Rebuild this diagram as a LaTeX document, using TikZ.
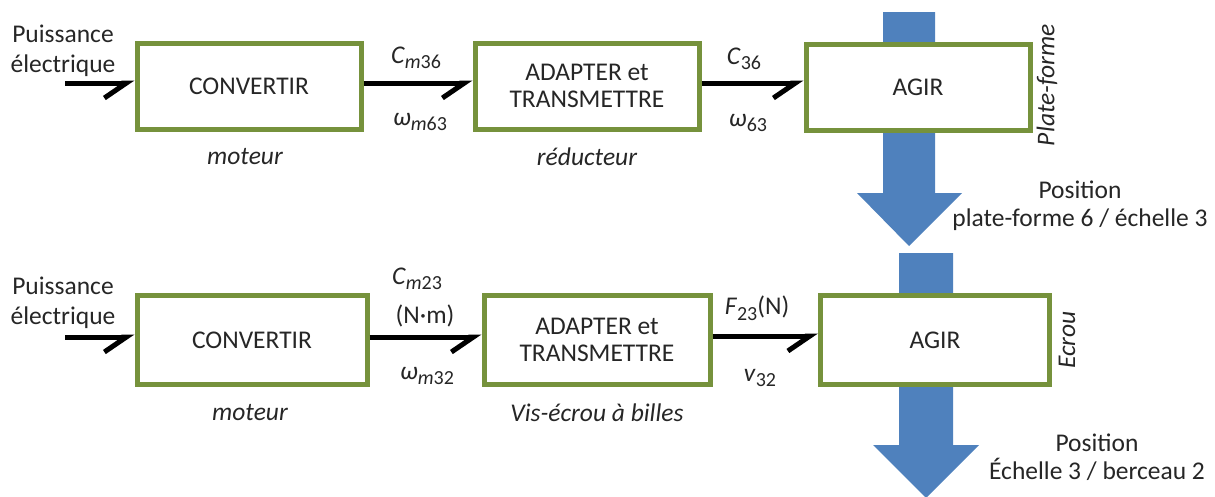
\documentclass[tikz,border=0pt]{standalone}
\usepackage{fontspec}
\setmainfont{Carlito}
\usetikzlibrary{arrows.meta}
\definecolor{boxgreen}{RGB}{118,146,60}
\definecolor{flowblue}{RGB}{79,129,189}
\definecolor{txt}{RGB}{38,38,38}
\newcommand\subs[1]{\raisebox{-0.45ex}{\fontsize{20}{20}\selectfont #1}}
\begin{document}
\begin{tikzpicture}[x=1pt,y=-1pt,
  every node/.style={font=\fontsize{25.5}{30}\selectfont, text=txt, inner sep=0pt},
  blk/.style={draw=boxgreen, line width=5pt, fill=white, minimum width=224pt, minimum height=86pt, align=center},
  flow/.style={line width=5pt, draw=black, -{Straight Barb[harpoon,swap,length=22pt,width=30pt]}},
  ital/.style={font=\fontsize{25.5}{30}\selectfont\itshape},
  twol/.style={align=center, font=\fontsize{25.5}{30}\selectfont}]
\useasboundingbox (0,0) rectangle (1215,496);

% flows of matter
\fill[flowblue] (883,12) -- (935,12) -- (935,193) -- (962,193) -- (909,246) -- (857,193) -- (883,193) -- cycle;
\fill[flowblue] (899,253) -- (953,253) -- (953,445) -- (979,445) -- (926,498) -- (873,445) -- (899,445) -- cycle;

% top row
\node[blk] (b1) at (249,86) {CONVERTIR};
\node[blk] (b2) at (587,86) {ADAPTER et\\[-3pt]TRANSMETTRE};
\node[blk] (b3) at (918,87) {AGIR};
% bottom row
\node[blk, minimum width=230pt, minimum height=89pt] (b4) at (252,340) {CONVERTIR};
\node[blk, minimum width=226pt, minimum height=89pt] (b5) at (597,340) {ADAPTER et\\[-3pt]TRANSMETTRE};
\node[blk, minimum width=229pt, minimum height=89pt] (b6) at (935,340) {AGIR};

\coordinate (in1) at (65,83);
\coordinate (in2) at (65,337);
\draw[flow] (in1) -- (in1 -| b1.west);
\draw[flow] ([yshift=3pt]b1.east) -- ([yshift=3pt]b2.west);
\draw[flow] ([yshift=3pt]b2.east) -- ([yshift=3pt]b2.east -| b3.west);
\draw[flow] (in2) -- (in2 -| b4.west);
\draw[flow] ([yshift=3pt]b4.east) -- ([yshift=3pt]b4.east -| b5.west);
\draw[flow] ([yshift=4pt]b5.east) -- ([yshift=4pt]b5.east -| b6.west);

% labels top
\node[twol] (p1) at (63,51) {Puissance\\électrique};
\node (c1) at (416,58) {\textit{C}\subs{\textit{m}36}};
\node (w1) at (420,122) {\textit{ω}\subs{\textit{m}63}};
\node (c2) at (744,59) {\textit{C}\subs{36}};
\node (w2) at (748,123) {\textit{ω}\subs{63}};
\node[ital] (m1) at (245,157) {moteur};
\node[ital] (r1) at (587,157) {réducteur};
\node[ital, rotate=90] (pf) at (1047,85) {Plate-forme};
\node[twol] (pos1) at (1080,206) {Position\\[-2pt]plate-forme 6 / échelle 3};

% labels bottom
\node[twol] (p2) at (63,303) {Puissance\\électrique};
\node (c3) at (417,279) {\textit{C}\subs{\textit{m}23}};
\node (nm) at (425,316) {(N·m)};
\node (w3) at (427,376) {\textit{ω}\subs{\textit{m}32}};
\node (f1) at (757,308) {\textit{F}\subs{23}(N)};
\node (v1) at (760,378) {\textit{v}\subs{32}};
\node[ital] (m2) at (250,413) {moteur};
\node[ital] (vb) at (597,413) {Vis-écrou à billes};
\node[ital, rotate=90] (ec) at (1067,340) {Ecrou};
\node[twol] (pos2) at (1097,457) {Position\\[-2pt]Échelle 3 / berceau 2};
\end{tikzpicture}
\end{document}
